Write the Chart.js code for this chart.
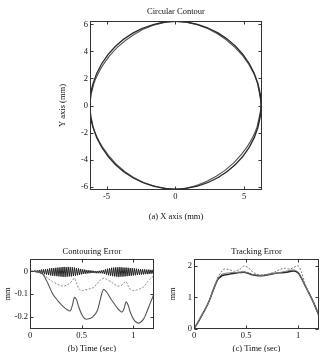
<!DOCTYPE html>
<html>
<head>
<meta charset="utf-8">
<script src="https://cdn.jsdelivr.net/npm/chart.js@4"></script>
<style>
  html, body { margin: 0; padding: 0; background: #fff; overflow: hidden; }
  canvas { position: absolute; }
  #c1 { left: 0; top: 0; }
  #c2 { left: 0; top: 226px; }
  #c3 { left: 167px; top: 226px; }
</style>
</head>
<body>
<canvas id="c1" width="334" height="222"></canvas>
<canvas id="c2" width="167" height="128"></canvas>
<canvas id="c3" width="167" height="128"></canvas>
<script>
// (a) circular contour, read as radius (mm) at each angle (loop overlaps so the curve closes smoothly)
const contourAngles = [-15, 0, 15, 30, 45, 60, 75, 90, 105, 120, 135, 150, 165, 180, 195, 210, 225, 240, 255, 270, 285, 300, 315, 330, 345, 360, 375];
const outerRadius = [6.22, 6.24, 6.22, 6.2, 6.19, 6.2, 6.21, 6.22, 6.2, 6.18, 6.17, 6.18, 6.2, 6.22, 6.2, 6.18, 6.17, 6.17, 6.18, 6.19, 6.18, 6.17, 6.18, 6.2, 6.22, 6.24, 6.22];
const innerRadius = [6.15, 6.22, 6.2, 6.15, 6.1, 6.12, 6.18, 6.22, 6.14, 6.05, 6.02, 6.05, 6.14, 6.2, 6.18, 6.12, 6.1, 6.12, 6.15, 6.2, 6.1, 6.02, 6.0, 6.05, 6.15, 6.22, 6.2];
const circleXTicks = [-5, 0, 5];
const circleYTicks = [-6, -4, -2, 0, 2, 4, 6];

// (b) contouring error (mm) vs time (sec)
const contourTime = [0, 0.05, 0.1, 0.13, 0.17, 0.22, 0.27, 0.32, 0.36, 0.39, 0.41, 0.43, 0.45, 0.47, 0.5, 0.53, 0.57, 0.61, 0.65, 0.68, 0.71, 0.74, 0.78, 0.81, 0.85, 0.89, 0.91, 0.93, 0.95, 0.97, 1.0, 1.03, 1.06, 1.1, 1.13, 1.16, 1.2];
const contourSolid = [0, 0, -0.005, -0.015, -0.05, -0.1, -0.13, -0.155, -0.17, -0.175, -0.15, -0.115, -0.125, -0.155, -0.19, -0.21, -0.21, -0.2, -0.175, -0.125, -0.08, -0.09, -0.12, -0.14, -0.165, -0.18, -0.165, -0.135, -0.15, -0.18, -0.21, -0.225, -0.228, -0.21, -0.18, -0.145, -0.1];
const contourDotted = [0, 0, -0.005, -0.012, -0.03, -0.045, -0.058, -0.065, -0.06, -0.05, -0.04, -0.03, -0.05, -0.075, -0.085, -0.082, -0.078, -0.072, -0.055, -0.038, -0.03, -0.035, -0.045, -0.055, -0.065, -0.06, -0.05, -0.045, -0.065, -0.078, -0.085, -0.082, -0.078, -0.068, -0.05, -0.035, -0.018];
// the dense chattering band around zero
const ripplesTime = [0, 0.01, 0.02, 0.03, 0.04, 0.05, 0.06, 0.07, 0.08, 0.09,
  0.1, 0.11, 0.12, 0.13, 0.14, 0.15, 0.16, 0.17, 0.18, 0.19,
  0.2, 0.21, 0.22, 0.23, 0.24, 0.25, 0.26, 0.27, 0.28, 0.29,
  0.3, 0.31, 0.32, 0.33, 0.34, 0.35, 0.36, 0.37, 0.38, 0.39,
  0.4, 0.41, 0.42, 0.43, 0.44, 0.45, 0.46, 0.47, 0.48, 0.49,
  0.5, 0.51, 0.52, 0.53, 0.54, 0.55, 0.56, 0.57, 0.58, 0.59,
  0.6, 0.61, 0.62, 0.63, 0.64, 0.65, 0.66, 0.67, 0.68, 0.69,
  0.7, 0.71, 0.72, 0.73, 0.74, 0.75, 0.76, 0.77, 0.78, 0.79,
  0.8, 0.81, 0.82, 0.83, 0.84, 0.85, 0.86, 0.87, 0.88, 0.89,
  0.9, 0.91, 0.92, 0.93, 0.94, 0.95, 0.96, 0.97, 0.98, 0.99,
  1.0, 1.01, 1.02, 1.03, 1.04, 1.05, 1.06, 1.07, 1.08, 1.09,
  1.1, 1.11, 1.12, 1.13, 1.14, 1.15, 1.16, 1.17, 1.18, 1.19, 1.2];
const ripples = [0, 0, 0, 0, 0, 0.004, -0.004, 0.005, -0.006, 0.006,
  -0.009, 0.008, -0.011, 0.009, -0.012, 0.01, -0.014, 0.011, -0.016, 0.013,
  -0.018, 0.014, -0.019, 0.015, -0.02, 0.016, -0.021, 0.017, -0.022, 0.018,
  -0.023, 0.019, -0.024, 0.02, -0.024, 0.019, -0.023, 0.02, -0.022, 0.019,
  -0.022, 0.018, -0.02, 0.017, -0.019, 0.015, -0.017, 0.013, -0.015, 0.011,
  -0.013, 0.009, -0.011, 0.008, -0.01, 0.006, -0.009, 0.005, -0.008, 0.004,
  -0.007, 0.003, -0.007, 0.002, -0.008, 0.002, -0.008, 0.003, -0.008, 0.004,
  -0.009, 0.006, -0.011, 0.009, -0.014, 0.012, -0.017, 0.014, -0.019, 0.016,
  -0.021, 0.017, -0.022, 0.018, -0.023, 0.018, -0.024, 0.019, -0.023, 0.018,
  -0.023, 0.017, -0.022, 0.017, -0.021, 0.016, -0.02, 0.015, -0.019, 0.014,
  -0.018, 0.013, -0.017, 0.012, -0.016, 0.011, -0.015, 0.01, -0.014, 0.009,
  -0.013, 0.009, -0.012, 0.008, -0.012, 0.008, -0.011, 0.007, -0.01, 0.007, -0.008];
const contourXTicks = [0, 0.5, 1];
const contourYTicks = [-0.2, -0.1, 0];

// (c) tracking error (mm) vs time (sec)
const trackTime = [0, 0.05, 0.1, 0.145, 0.19, 0.23, 0.26, 0.29, 0.34, 0.39, 0.44, 0.48, 0.52, 0.55, 0.6, 0.65, 0.7, 0.77, 0.82, 0.87, 0.92, 0.96, 1.0, 1.03, 1.06, 1.1, 1.15, 1.2];
const trackSolid = [0, 0.28, 0.58, 0.88, 1.28, 1.58, 1.67, 1.71, 1.74, 1.77, 1.79, 1.8, 1.77, 1.73, 1.7, 1.69, 1.71, 1.76, 1.78, 1.79, 1.82, 1.84, 1.78, 1.62, 1.42, 1.16, 0.82, 0.42];
const trackGray = [0, 0.28, 0.58, 0.88, 1.28, 1.6, 1.72, 1.76, 1.78, 1.79, 1.8, 1.81, 1.78, 1.74, 1.71, 1.7, 1.72, 1.76, 1.79, 1.82, 1.86, 1.87, 1.8, 1.62, 1.42, 1.16, 0.82, 0.42];
const trackDotted = [0, 0.28, 0.58, 0.88, 1.3, 1.65, 1.8, 1.9, 1.88, 1.83, 1.9, 2.0, 1.95, 1.85, 1.74, 1.72, 1.74, 1.8, 1.88, 1.93, 1.9, 1.96, 2.0, 1.82, 1.5, 1.16, 0.82, 0.42];
const trackXTicks = [0, 0.5, 1];
const trackYTicks = [0, 1, 2];

Chart.defaults.font.family = "'Liberation Serif', 'DejaVu Serif', serif";
Chart.defaults.font.size = 8.5;
Chart.defaults.color = '#111';

const pts = (xs, ys) => xs.map((x, i) => ({ x, y: ys[i] }));
const polar = (angles, radii) => angles.map((a, i) => ({
  x: radii[i] * Math.cos(a * Math.PI / 180),
  y: radii[i] * Math.sin(a * Math.PI / 180)
}));

// box round the plot with short ticks pointing in, on all four sides
const boxFrame = {
  id: 'boxFrame',
  afterDraw(chart) {
    const { ctx, chartArea: a } = chart;
    const xs = chart.scales.x, ys = chart.scales.y;
    const l = Math.round(a.left) + 0.5, r = Math.round(a.right) - 0.5;
    const t = Math.round(a.top) + 0.5, b = Math.round(a.bottom) - 0.5;
    ctx.save();
    ctx.strokeStyle = '#333';
    ctx.lineWidth = 1;
    ctx.strokeRect(l, t, r - l, b - t);
    ctx.beginPath();
    xs.ticks.forEach(tk => {
      const px = Math.round(xs.getPixelForValue(tk.value)) + 0.5;
      ctx.moveTo(px, b); ctx.lineTo(px, b - 3);
      ctx.moveTo(px, t); ctx.lineTo(px, t + 3);
    });
    ys.ticks.forEach(tk => {
      const py = Math.round(ys.getPixelForValue(tk.value)) + 0.5;
      ctx.moveTo(l, py); ctx.lineTo(l + 3, py);
      ctx.moveTo(r, py); ctx.lineTo(r - 3, py);
    });
    ctx.stroke();
    ctx.restore();
  }
};

function axis(min, max, ticks, title, size, titlePad, horizontal) {
  return {
    type: 'linear',
    min, max,
    grid: { display: false, drawTicks: false },
    border: { display: false },
    afterBuildTicks: s => { s.ticks = ticks.map(v => ({ value: v })); },
    afterFit: s => { if (horizontal) s.height = size; else s.width = size; },
    ticks: { padding: 2, color: '#111', callback: v => String(v) },
    title: { display: true, text: title, padding: { top: titlePad, bottom: 0 }, color: '#111' }
  };
}

function line(data, color, width, dash, tension) {
  return {
    data, borderColor: color, borderWidth: width, borderDash: dash || [],
    pointRadius: 0, showLine: true, fill: false, tension: tension || 0
  };
}

function makeChart(id, title, titlePad, padding, datasets, scales) {
  return new Chart(document.getElementById(id), {
    type: 'scatter',
    data: { datasets },
    options: {
      responsive: false,
      animation: false,
      layout: { padding },
      plugins: {
        legend: { display: false },
        tooltip: { enabled: false },
        title: { display: true, text: title, fullSize: false, padding: titlePad, color: '#111', font: { weight: 'normal', size: 8.5 } }
      },
      scales
    },
    plugins: [boxFrame]
  });
}

makeChart('c1', 'Circular Contour', { top: 7, bottom: 3.8 }, { left: 50, right: 72, top: 0, bottom: 0 }, [
  line(polar(contourAngles, outerRadius), '#2a2a2a', 1.3, null, 0.4),
  line(polar(contourAngles, innerRadius), '#555', 1.1, null, 0.4)
], {
  x: axis(-6.2, 6.3, circleXTicks, '(a) X axis (mm)', 32, 5, true),
  y: axis(-6.25, 6.25, circleYTicks, 'Y axis (mm)', 40, 8, false)
});

makeChart('c2', 'Contouring Error', { top: 21, bottom: 1.8 }, { left: 0, right: 13, top: 0, bottom: 0 }, [
  line(pts(contourTime, contourSolid), '#555', 1.1, null, 0.3),
  line(pts(contourTime, contourDotted), '#888', 1, [2, 1.5], 0.3),
  line(pts(ripplesTime, ripples), '#222', 1)
], {
  x: axis(0, 1.2, contourXTicks, '(b) Time (sec)', 25, 2, true),
  y: axis(-0.255, 0.055, contourYTicks, 'mm', 30, 3, false)
});

makeChart('c3', 'Tracking Error', { top: 21, bottom: 1.8 }, { left: 0, right: 15, top: 0, bottom: 0 }, [
  line(pts(trackTime, trackDotted), '#777', 1, [2, 1.5], 0.3),
  line(pts(trackTime, trackGray), '#777', 1, null, 0.3),
  line(pts(trackTime, trackSolid), '#222', 1.5, null, 0.3)
], {
  x: axis(0, 1.2, trackXTicks, '(c) Time (sec)', 25, 2, true),
  y: axis(0, 2.22, trackYTicks, 'mm', 27, 1, false)
});
</script>
</body>
</html>
